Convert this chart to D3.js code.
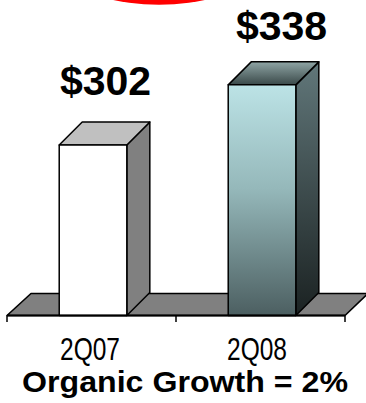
<!DOCTYPE html>
<html>
<head>
<meta charset="utf-8">
<script src="https://cdn.jsdelivr.net/npm/d3@7"></script>
<style>
  html, body { margin: 0; padding: 0; background: #fff; }
  svg { display: block; }
  text { font-family: Arial, "Liberation Sans", sans-serif; }
</style>
</head>
<body>
<svg id="chart" width="366" height="403"></svg>
<script>
// Quarterly revenue ($M)
const quarters = ["2Q07", "2Q08"];
const revenue = [302, 338];
const valueLabels = ["$302", "$338"];
const footnote = "Organic Growth = 2%";

const W = 366, H = 403;
const svg = d3.select("#chart");
const defs = svg.append("defs");

// 3D depth offset of the bars and the floor
const DX = 23, DY = -23;

const x = d3.scaleBand()
  .domain(quarters)
  .range([7, 345])
  .paddingInner(0.6)
  .paddingOuter(0.3)
  .align(0.515);

const y = d3.scaleLinear()
  .domain([200, 350])
  .range([315.5, 64.8]);

const floorY = y.range()[0];

// label placement: value labels float above and right of each bar's back edge
const labelX = d3.scalePoint()
  .domain(quarters)
  .range([x.range()[0] + 98.5, x.range()[1] - 63.5]);
const labelY = d3.scaleLinear()
  .domain(d3.extent(revenue))
  .range([94.5, 40]);

// face shading: plain grey box for the first bar, gradient steel for the second
function grad(id, stops) {
  const g = defs.append("linearGradient").attr("id", id)
    .attr("x1", 0).attr("y1", 0).attr("x2", 0).attr("y2", 1);
  stops.forEach(([o, c]) => g.append("stop").attr("offset", o).attr("stop-color", c));
  return `url(#${id})`;
}
const faces = [
  { front: "#ffffff", side: "#808080", top: "#c0c0c0" },
  {
    front: grad("g-front", [[0, "#bce3e6"], [0.45, "#95b8ba"], [1, "#4c5f61"]]),
    side: grad("g-side", [[0, "#61777a"], [1, "#1b2222"]]),
    top: grad("g-top", [[0, "#8fa5a5"], [1, "#3a4949"]])
  }
];

// red highlight peeking in at the top edge
svg.append("ellipse")
  .attr("cx", 159).attr("cy", -20)
  .attr("rx", 78).attr("ry", 24.7)
  .attr("fill", "#ff0000");

// floor slab
const [fx0, fx1] = x.range();
svg.append("path")
  .attr("d", `M${fx0},${floorY} L${fx0 + DX + 1},${floorY + DY + 1} L${fx1 + DX},${floorY + DY + 1} L${fx1},${floorY} Z`)
  .attr("fill", "#808080")
  .attr("stroke", "#000")
  .attr("stroke-width", 1.6)
  .attr("stroke-linejoin", "round");

// bars
const bars = svg.append("g").selectAll("g")
  .data(revenue)
  .join("g");

bars.each(function (v, i) {
  const g = d3.select(this);
  const x0 = x(quarters[i]), x1 = x0 + x.bandwidth();
  const yt = y(v), yb = floorY;
  const f = faces[i];
  const style = sel => sel.attr("stroke", "#000").attr("stroke-width", 1.5).attr("stroke-linejoin", "round");

  style(g.append("path")
    .attr("d", `M${x1},${yb} L${x1 + DX},${yb + DY} L${x1 + DX},${yt + DY} L${x1},${yt} Z`)
    .attr("fill", f.side));
  style(g.append("path")
    .attr("d", `M${x0},${yt} L${x0 + DX},${yt + DY} L${x1 + DX},${yt + DY} L${x1},${yt} Z`)
    .attr("fill", f.top));
  style(g.append("rect")
    .attr("x", x0).attr("y", yt)
    .attr("width", x1 - x0).attr("height", yb - yt)
    .attr("fill", f.front));
});

// value labels above the bars
svg.append("g").selectAll("text")
  .data(revenue)
  .join("text")
  .attr("x", (d, i) => labelX(quarters[i]))
  .attr("y", d => labelY(d))
  .attr("text-anchor", "middle")
  .attr("font-size", 41)
  .attr("font-weight", "bold")
  .attr("fill", "#000")
  .text((d, i) => valueLabels[i]);

// category axis along the front edge of the floor
const axisG = svg.append("g");
axisG.append("line")
  .attr("x1", fx0).attr("x2", fx1)
  .attr("y1", floorY).attr("y2", floorY)
  .attr("stroke", "#000").attr("stroke-width", 2);
const boundaries = [fx0, (fx0 + fx1) / 2, fx1];
axisG.selectAll(".tick")
  .data(boundaries)
  .join("line")
  .attr("class", "tick")
  .attr("x1", d => d).attr("x2", d => d)
  .attr("y1", floorY).attr("y2", floorY + 6.5)
  .attr("stroke", "#000").attr("stroke-width", 1.5);

axisG.selectAll(".cat")
  .data(quarters)
  .join("text")
  .attr("class", "cat")
  .attr("x", (d, i) => x(d) + x.bandwidth() / 2 - 3 - i * 2)
  .attr("y", 360)
  .attr("text-anchor", "middle")
  .attr("font-size", 31)
  .attr("textLength", 60)
  .attr("lengthAdjust", "spacingAndGlyphs")
  .attr("fill", "#000")
  .text(d => d);

// footnote
svg.append("text")
  .attr("x", 185)
  .attr("y", 391.7)
  .attr("text-anchor", "middle")
  .attr("font-size", 30)
  .attr("font-weight", "bold")
  .attr("textLength", 326)
  .attr("lengthAdjust", "spacingAndGlyphs")
  .attr("fill", "#000")
  .text(footnote);
</script>
</body>
</html>
